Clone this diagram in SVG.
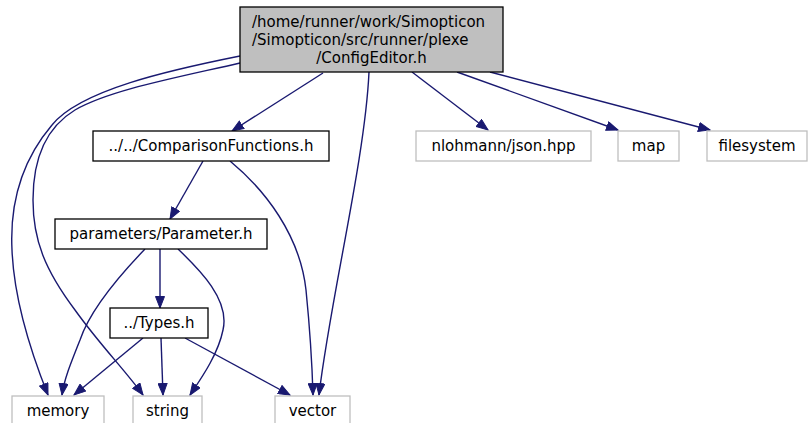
<svg xmlns="http://www.w3.org/2000/svg" width="809" height="423" viewBox="0 0 809 423">
<style>
text{font-family:"DejaVu Sans",sans-serif;font-size:15px;fill:#000}
.c{text-anchor:middle}
.n{fill:#fff;stroke:#000;stroke-width:1.3}
.x{fill:#fff;stroke:#bfbfbf;stroke-width:1.3}
.m{fill:#bfbfbf;stroke:#000;stroke-width:1.3}
.e path{fill:none;stroke:#191970;stroke-width:1.4;marker-end:url(#a)}
</style>
<defs>
<marker id="a" markerUnits="userSpaceOnUse" markerWidth="13" markerHeight="10" refX="12" refY="5" orient="auto">
<path d="M0.5,0.5 L12,5 L0.5,9.5 z" fill="#191970" stroke="#191970" stroke-width="1"/>
</marker>
</defs>
<rect width="809" height="423" fill="#fff"/>
<g class="e" id="edges">
<path d="M240,56 C170,70 80,90 52,125 C18,165 10,210 12,250 C14,300 30,350 48,395"/>
<path d="M240,63 C175,78 110,90 75,110 C45,128 33,160 33,200 C33,240 45,270 75,310 C100,345 125,370 143,395"/>
<path d="M323,73 L232,131"/>
<path d="M369,72 C365,160 330,300 319,395"/>
<path d="M412,72 L488,130"/>
<path d="M457,72 L618,130"/>
<path d="M490,72 L710,130"/>
<path d="M203,161 L170,219"/>
<path d="M230,161 C265,190 300,235 306,290 C310,330 312,360 313,395"/>
<path d="M145,249 C120,275 90,310 80,340 C70,365 64,380 62,395"/>
<path d="M160,249 L160,308"/>
<path d="M178,249 C200,270 230,300 223,330 C218,355 200,380 190,395"/>
<path d="M143,338 L74,395"/>
<path d="M161,338 L163,395"/>
<path d="M185,338 L290,395"/>
</g>
<g id="main">
<rect class="m" x="240" y="7" width="263" height="65"/>
<text x="252" y="27">/home/runner/work/Simopticon</text>
<text x="252" y="45">/Simopticon/src/runner/plexe</text>
<text class="c" x="371.5" y="63">/ConfigEditor.h</text>
</g>
<g id="comparison">
<rect class="n" x="93" y="131" width="236" height="30"/>
<text class="c" x="211" y="151">../../ComparisonFunctions.h</text>
</g>
<g id="parameter">
<rect class="n" x="55" y="219" width="212" height="30"/>
<text class="c" x="161" y="239">parameters/Parameter.h</text>
</g>
<g id="types">
<rect class="n" x="110" y="308" width="98" height="30"/>
<text class="c" x="159" y="328">../Types.h</text>
</g>
<g id="json">
<rect class="x" x="416" y="131" width="175" height="30"/>
<text class="c" x="503.5" y="151">nlohmann/json.hpp</text>
</g>
<g id="map">
<rect class="x" x="618" y="131" width="61" height="30"/>
<text class="c" x="648.5" y="151">map</text>
</g>
<g id="filesystem">
<rect class="x" x="707" y="131" width="100" height="30"/>
<text class="c" x="757" y="151">filesystem</text>
</g>
<g id="memory">
<rect class="x" x="12" y="396" width="92" height="30"/>
<text class="c" x="58" y="416">memory</text>
</g>
<g id="string">
<rect class="x" x="133" y="396" width="69" height="30"/>
<text class="c" x="167.5" y="416">string</text>
</g>
<g id="vector">
<rect class="x" x="275" y="396" width="75" height="30"/>
<text class="c" x="312.5" y="416">vector</text>
</g>
</svg>
